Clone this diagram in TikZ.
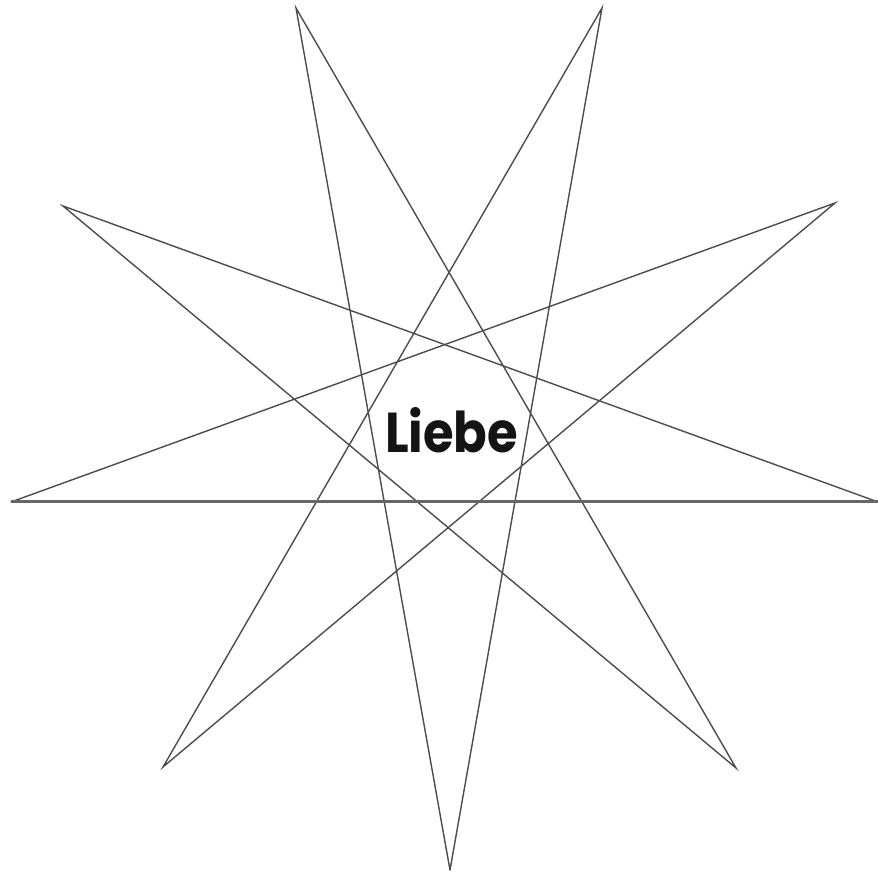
\documentclass[tikz,border=0pt]{standalone}
\usepackage{fontspec}
\setmainfont{Poppins}
\usepackage{graphicx}
\tikzset{
  starline/.style={draw=black!70, line width=1.4pt, line cap=round},
  baseline/.style={draw=black!60, line width=3pt},
  word/.style={inner sep=0pt, text=black!92}
}
\begin{document}
\begin{tikzpicture}[x=1pt,y=1pt]
\useasboundingbox (0,0) rectangle (878,872);
\coordinate (v0) at (450,2);
\coordinate (v1) at (163,105);
\coordinate (v2) at (11,370);
\coordinate (v3) at (63,666);
\coordinate (v4) at (296,864);
\coordinate (v5) at (602,864);
\coordinate (v6) at (835,669);
\coordinate (v7) at (878,370);
\coordinate (v8) at (736,104);
\draw[starline] (v0) -- (v4) -- (v8) -- (v3) -- (v7);
\draw[starline] (v2) -- (v6) -- (v1) -- (v5) -- (v0);
\draw[baseline] (v7) -- (v2);
\node[word] (liebe) at (451.5,441.5) {\resizebox{133pt}{45pt}{\bfseries Liebe}};
\end{tikzpicture}
\end{document}
